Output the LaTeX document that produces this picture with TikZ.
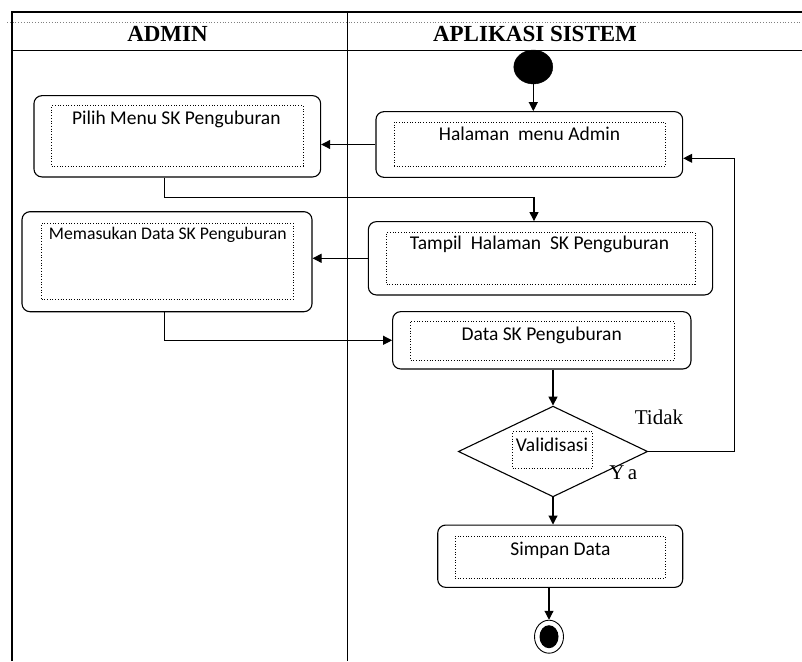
\documentclass[tikz,border=0pt]{standalone}
\usepackage{fontspec}
\setmainfont{Liberation Serif}
\setsansfont{Carlito}
\usetikzlibrary{shapes.geometric,arrows.meta}

\begin{document}
\begin{tikzpicture}[x=1pt, y=-1pt, font=\sffamily\fontsize{19.5}{22}\selectfont,
    actbox/.style={draw, line width=1.1pt, rounded corners=8pt, inner sep=0pt},
    inbox/.style={draw, dotted, line width=0.7pt, inner sep=0pt},
    txt/.style={anchor=base, inner sep=0pt},
    flow/.style={line width=1.1pt, -{Triangle[length=9pt,width=9pt]}},
    lane/.style={line width=1.2pt},
    lanehead/.style={font=\rmfamily\bfseries\fontsize{23}{26}\selectfont, anchor=base, inner sep=0pt}]
        \useasboundingbox (0,0) rectangle (802,661);

        %% swimlanes
        \draw[gray, line width=0.8pt, dotted] (7,22) -- (802,22);
        \draw[lane] (12,661) -- (12,12) -- (802,12);
        \draw[lane] (12,50.3) -- (802,50.3);
        \draw[lane] (347.3,12) -- (347.3,661);
        \node[lanehead] (hadmin) at (167.5,41.7) {ADMIN};
        \node[lanehead] (hsistem) at (535,41.7) {APLIKASI SISTEM};

        %% start / stop
        \node[draw, fill, ellipse, minimum width=39, minimum height=34, inner sep=0pt] (start) at (533.3,67) {};
        \node[draw, ellipse, line width=0.9pt, minimum width=29, minimum height=33, inner sep=0pt] (stop) at (549,636.7) {};
        \node[fill, ellipse, minimum width=19, minimum height=23, inner sep=0pt] (stopdot) at (stop) {};

        %% admin
        \node[actbox, minimum width=286.7, minimum height=81.3] (pilih) at (177.3,136.3) {};
        \node[inbox, minimum width=251.3, minimum height=60.3] (pilihin) at (177.3,135.8) {};
        \node[txt] (pilihtx) at (176.3,124) {Pilih Menu SK Penguburan};

        \node[actbox, minimum width=290, minimum height=100] (masuk) at (167,261.7) {};
        \node[inbox, minimum width=251.3, minimum height=76] (masukin) at (167.3,261) {};
        \node[txt, font=\sffamily\fontsize{17.7}{20}\selectfont] (masuktx) at (167.8,239.3) {Memasukan Data SK Penguburan};

        %% sistem
        \node[actbox, minimum width=306.7, minimum height=65.7] (menu) at (529.3,144.5) {};
        \node[inbox, minimum width=271, minimum height=44] (menuin) at (529.5,144) {};
        \node[txt] (menutx) at (529.5,140) {Halaman\ \ menu Admin};

        \node[actbox, minimum width=344.3, minimum height=73.3] (tampil) at (540.5,258.3) {};
        \node[inbox, minimum width=308.3, minimum height=51.7] (tampilin) at (540.8,258.2) {};
        \node[txt] (tampiltx) at (539.5,249.3) {Tampil\ \ Halaman\ \ SK Penguburan};

        \node[actbox, minimum width=298.3, minimum height=57.3] (data) at (541.8,340.3) {};
        \node[inbox, minimum width=263.3, minimum height=39] (datain) at (542.3,340.5) {};
        \node[txt] (datatx) at (541.7,340) {Data SK Penguburan};

        \node[draw, diamond, line width=1.1pt, minimum width=189.4, minimum height=90.7, inner sep=0pt] (valid) at (553,451.5) {};
        \node[inbox, minimum width=79.6, minimum height=36.3] (validin) at (552.5,449.8) {};
        \node[txt] (validtx) at (552,451.7) {Validisasi};
        \node[txt, font=\rmfamily\fontsize{21}{24}\selectfont] (tidak) at (659,424) {Tidak};
        \node[txt, font=\rmfamily\fontsize{21}{24}\selectfont] (ya) at (623.3,479) {Y\,a};

        \node[actbox, minimum width=245, minimum height=62.3] (simpan) at (560.2,556.2) {};
        \node[inbox, minimum width=210, minimum height=42.3] (simpanin) at (560,557.2) {};
        \node[txt] (simpantx) at (560.5,555) {Simpan\ Data};

        %% flows
        \coordinate (back) at (734.3,158.3);
        \draw[flow] (start) -- (start |- menu.north);
        \draw[flow] (menu.west) -- (menu.west -| pilih.east);
        \draw[flow] ([xshift=-12.6pt]pilih.south) -- ++(0,20) -| ([xshift=-6.5pt]tampil.north);
        \draw[flow] (tampil.west) -- (tampil.west -| masuk.east);
        \draw[flow] ([xshift=-2.3pt]masuk.south) |- (data.west);
        \draw[flow] (valid.north |- data.south) -- (valid.north);
        \draw[flow] (valid.east) -| (back) -- (back -| menu.east);
        \draw[flow] (valid.south) -- (valid.south |- simpan.north);
        \draw[flow] (stop.north |- simpan.south) -- (stop.north);

\end{tikzpicture}
\end{document}
